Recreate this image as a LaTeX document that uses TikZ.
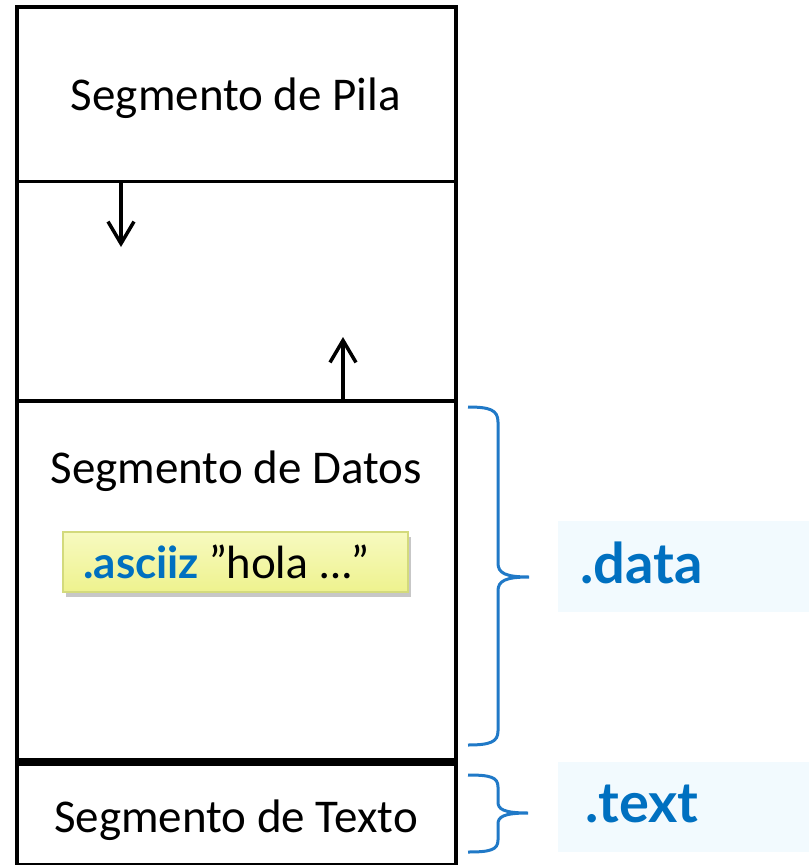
\documentclass[tikz,border=0pt]{standalone}
\usepackage{fontspec}
\setmainfont{Carlito}
\newfontfamily\labelfont{Lato}
\usetikzlibrary{arrows.meta,shadows}
\definecolor{asmblue}{HTML}{0070C0}
\definecolor{bracecol}{HTML}{2079C7}
\definecolor{tagfill}{HTML}{F2FAFE}
\definecolor{notetop}{HTML}{F7FAC0}
\definecolor{notebot}{HTML}{EEF28E}
\definecolor{noteedge}{HTML}{D3DA7C}
\tikzset{
  segbox/.style={draw=black, line width=3.5bp, minimum width=439bp, inner sep=0pt},
  segtext/.style={font=\fontsize{47bp}{56bp}\selectfont, anchor=base, inner sep=0pt},
  growarrow/.style={line width=3.5bp, -{Straight Barb[length=22bp,width=26bp,line width=3.5bp]}},
  segbrace/.style={draw=bracecol, line width=3bp},
  tagbox/.style={fill=tagfill, minimum width=251bp, inner sep=0pt, anchor=north west},
  tagtext/.style={font=\labelfont\bfseries\fontsize{56bp}{66bp}\selectfont, text=asmblue, anchor=base west, inner sep=0pt},
  notebox/.style={draw=noteedge, line width=1.5bp, top color=notetop, bottom color=notebot,
    minimum width=345bp, minimum height=60bp, inner sep=0pt,
    drop shadow={shadow xshift=3bp, shadow yshift=-5bp, fill=black!40, opacity=0.55}}
}
\begin{document}
\begin{tikzpicture}[x=1bp,y=-1bp]
\useasboundingbox (0,0) rectangle (809,865);
\clip (0,0) rectangle (809,865);

% memory segments, top to bottom
\node[segbox, minimum height=174.5bp] (pila) at (236.5,94.25) {};
\node[segbox, minimum height=219.5bp] (libre) at (236.5,291.25) {};
\node[segbox, minimum height=359bp] (datos) at (236.5,580.5) {};
\node[segbox, minimum height=101bp] (texto) at (236.5,814.5) {};

\node[segtext] (tpila) at (236,110) {Segmento de Pila};
\node[segtext] (tdatos) at (236,483) {Segmento de Datos};
\node[segtext] (ttexto) at (236,832) {Segmento de Texto};

% growth of stack and heap
\coordinate (pilafin) at (121,247);
\coordinate (heapfin) at (343,337);
\draw[growarrow] (pila.south -| pilafin) -- (pilafin);
\draw[growarrow] (datos.north -| heapfin) -- (heapfin);

% string directive inside the data segment
\node[notebox] (nota) at (235.5,562) {};
\node[anchor=base west, inner sep=0pt, font=\labelfont\fontsize{44bp}{52bp}\selectfont] (tnota) at (83,578)
  {\textcolor{asmblue}{\bfseries .asciiz} ”hola …”};

% section labels
\node[tagbox, minimum height=91bp] (tagdata) at (558,521) {};
\node[tagbox, minimum height=90bp] (tagtext) at (558,762) {};
\node[tagtext] (ldata) at (580,583) {.data};
\node[tagtext] (ltext) at (585,822) {.text};

% braces grouping the segments
\coordinate (bd1) at (468,407);
\coordinate (bd2) at (468,745);
\coordinate (bdt) at (529,577);
\coordinate (bt1) at (468,775);
\coordinate (bt2) at (468,852);
\coordinate (btt) at (528,813);
\draw[segbrace] (bd1) .. controls (490,407) and (498,410) .. (498,422) -- (498,563)
  .. controls (498,573) and (505,577) .. (bdt)
  .. controls (505,577) and (498,581) .. (498,591) -- (498,731)
  .. controls (498,742) and (490,745) .. (bd2);
\draw[segbrace] (bt1) .. controls (490,775) and (498,777) .. (498,787) -- (498,802)
  .. controls (498,809) and (503,813) .. (btt)
  .. controls (503,813) and (498,817) .. (498,824) -- (498,840)
  .. controls (498,850) and (490,852) .. (bt2);
\end{tikzpicture}
\end{document}
